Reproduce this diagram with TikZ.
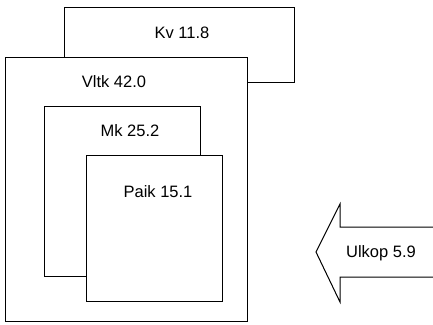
\documentclass[tikz,border=0pt]{standalone}
\usepackage{fontspec}
\setmainfont{Liberation Sans}
\begin{document}
\begin{tikzpicture}[x=1pt,y=-1pt,
  box/.style={draw=black,fill=white,line width=1pt,inner sep=0pt,minimum width=#1},
  lbl/.style={font=\fontsize{16.5}{18}\selectfont,inner sep=0pt,anchor=base}]
\useasboundingbox (0,0) rectangle (433,324);
\node[box=230pt,minimum height=75pt] (kvbox) at (179,44.5) {};
\node[lbl] (kv) at (182,38) {Kv 11.8};
\node[box=242pt,minimum height=264pt] (vltkbox) at (126,189) {};
\node[lbl] (vltk) at (114,87) {Vltk 42.0};
\node[box=156pt,minimum height=170pt] (mkbox) at (122,191) {};
\node[lbl] (mk) at (130,136) {Mk 25.2};
\node[box=136pt,minimum height=146pt] (paikbox) at (154,228) {};
\node[lbl] (paik) at (158,197) {Paik 15.1};
\coordinate (s1) at (434,227);
\coordinate (s2) at (434,277);
\draw[line width=1pt] (s1) -- (340,227) -- (340,204) -- (316,252) -- (340,302) -- (340,277) -- (s2);
\node[lbl] (ulkop) at (381,257) {Ulkop 5.9};
\end{tikzpicture}
\end{document}
